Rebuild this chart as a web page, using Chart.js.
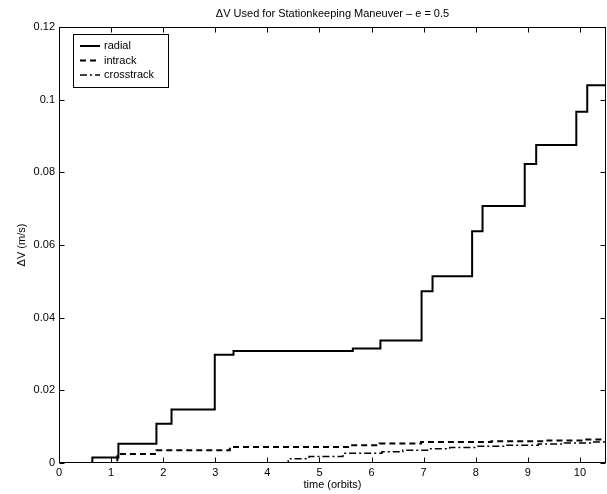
<!DOCTYPE html>
<html>
<head>
<meta charset="utf-8">
<script src="https://cdn.jsdelivr.net/npm/chart.js@4.4.0/dist/chart.umd.min.js"></script>
<style>
  html, body { margin: 0; padding: 0; background: #fff; }
</style>
</head>
<body>
<canvas id="chart" width="607" height="494"></canvas>
<script>
// step data: each entry is the time (orbits) at which the cumulative dV jumps
const radialTime = [0, 0.64, 1.14, 1.87, 2.16, 2.99, 3.35, 5.64, 6.17, 6.96, 7.17, 7.93, 8.13, 8.94, 9.16, 9.93, 10.14, 10.5];
const radialDv = [0, 0.0015, 0.0053, 0.0108, 0.0147, 0.0298, 0.0308, 0.0315, 0.0337, 0.0473, 0.0514, 0.0638, 0.0707, 0.0823, 0.0875, 0.0967, 0.1040, 0.1040];

const intrackTime = [0, 1.12, 1.87, 3.28, 5.55, 6.15, 6.95, 8.3, 9.3, 10.1, 10.5];
const intrackDv = [0, 0.0025, 0.0035, 0.0044, 0.0049, 0.0054, 0.0058, 0.0060, 0.0062, 0.0065, 0.0065];

const crossTime = [0, 4.4, 4.8, 5.45, 6.2, 6.6, 7.1, 7.5, 8.0, 8.6, 9.2, 9.7, 10.2, 10.5];
const crossDv = [0, 0.0012, 0.0018, 0.0027, 0.0031, 0.0035, 0.0039, 0.0043, 0.0046, 0.0049, 0.0052, 0.0055, 0.0058, 0.0058];

const xTicks = [0, 1, 2, 3, 4, 5, 6, 7, 8, 9, 10];
const yTicks = [0, 0.02, 0.04, 0.06, 0.08, 0.1, 0.12];

const FONT = '"Liberation Sans", Arial, Helvetica, sans-serif';

function toPoints(xs, ys) {
    return xs.map((x, i) => ({ x: x, y: ys[i] }));
}

// axes box with inward tick marks on all four sides
const boxPlugin = {
    id: 'box',
    afterDraw(chart) {
        const { ctx, chartArea: a, scales } = chart;
        const L = Math.round(a.left) + 0.5, R = Math.round(a.right) - 0.5;
        const T = Math.round(a.top) + 0.5, B = Math.round(a.bottom) - 0.5;
        const len = 5;
        ctx.save();
        ctx.strokeStyle = '#000';
        ctx.lineWidth = 1;
        ctx.strokeRect(L, T, R - L, B - T);
        ctx.beginPath();
        scales.x.ticks.forEach(t => {
            const px = Math.round(scales.x.getPixelForValue(t.value)) + 0.5;
            ctx.moveTo(px, B); ctx.lineTo(px, B - len);
            ctx.moveTo(px, T); ctx.lineTo(px, T + len);
        });
        scales.y.ticks.forEach(t => {
            const py = Math.round(scales.y.getPixelForValue(t.value)) + 0.5;
            ctx.moveTo(L, py); ctx.lineTo(L + len, py);
            ctx.moveTo(R, py); ctx.lineTo(R - len, py);
        });
        ctx.stroke();
        ctx.restore();
    }
};

// title centred over the axes
const titlePlugin = {
    id: 'axesTitle',
    afterDraw(chart) {
        const { ctx, chartArea: a } = chart;
        ctx.save();
        ctx.font = '11px ' + FONT;
        ctx.fillStyle = '#000';
        ctx.textAlign = 'center';
        ctx.textBaseline = 'alphabetic';
        ctx.fillText('ΔV Used for Stationkeeping Maneuver – e = 0.5', (a.left + a.right) / 2, 17);
        ctx.restore();
    }
};

// boxed legend in the upper left corner of the axes
const legendPlugin = {
    id: 'boxLegend',
    afterDraw(chart) {
        const { ctx } = chart;
        const x0 = 73.5, y0 = 34.5, w = 95, h = 53;
        ctx.save();
        ctx.fillStyle = '#fff';
        ctx.fillRect(x0, y0, w, h);
        ctx.strokeStyle = '#000';
        ctx.lineWidth = 1;
        ctx.strokeRect(x0, y0, w, h);
        ctx.font = '11px ' + FONT;
        ctx.textBaseline = 'middle';
        ctx.textAlign = 'left';
        chart.data.datasets.forEach((ds, i) => {
            const y = 46 + i * 14.5;
            ctx.beginPath();
            ctx.setLineDash(ds.borderDash || []);
            ctx.lineWidth = ds.borderWidth;
            ctx.moveTo(80, y);
            ctx.lineTo(100, y);
            ctx.stroke();
            ctx.setLineDash([]);
            ctx.fillStyle = '#000';
            ctx.fillText(ds.label, 104, y);
        });
        ctx.restore();
    }
};

const ctx = document.getElementById('chart').getContext('2d');

new Chart(ctx, {
    type: 'line',
    data: {
        datasets: [
            {
                label: 'radial',
                data: toPoints(radialTime, radialDv),
                borderColor: '#000',
                borderWidth: 2,
                stepped: true,
                pointRadius: 0,
                fill: false
            },
            {
                label: 'intrack',
                data: toPoints(intrackTime, intrackDv),
                borderColor: '#000',
                borderWidth: 2,
                borderDash: [6, 4],
                stepped: true,
                pointRadius: 0,
                fill: false
            },
            {
                label: 'crosstrack',
                data: toPoints(crossTime, crossDv),
                borderColor: '#000',
                borderWidth: 1.5,
                borderDash: [7, 3, 2, 3],
                stepped: true,
                pointRadius: 0,
                fill: false
            }
        ]
    },
    options: {
        responsive: false,
        animation: false,
        devicePixelRatio: 1,
        layout: {
            padding: { top: 27, right: 1, left: 0, bottom: 0 }
        },
        plugins: {
            legend: { display: false },
            tooltip: { enabled: false }
        },
        scales: {
            x: {
                type: 'linear',
                min: 0,
                max: 10.5,
                afterBuildTicks: s => { s.ticks = xTicks.map(v => ({ value: v })); },
                afterFit: s => { s.height = 31; },
                grid: { display: false, drawTicks: false },
                border: { display: false },
                ticks: {
                    color: '#000',
                    padding: 3,
                    maxRotation: 0,
                    font: { family: FONT, size: 11 },
                    callback: v => String(v)
                },
                title: {
                    display: true,
                    text: 'time (orbits)',
                    color: '#000',
                    font: { family: FONT, size: 11 },
                    padding: { top: 0, bottom: 2.4 }
                }
            },
            y: {
                type: 'linear',
                min: 0,
                max: 0.12,
                afterBuildTicks: s => { s.ticks = yTicks.map(v => ({ value: v })); },
                afterFit: s => { s.width = 59; },
                grid: { display: false, drawTicks: false },
                border: { display: false },
                ticks: {
                    color: '#000',
                    padding: 4,
                    font: { family: FONT, size: 11 },
                    callback: v => String(v)
                },
                title: {
                    display: true,
                    text: 'ΔV (m/s)',
                    color: '#000',
                    font: { family: FONT, size: 11 },
                    padding: { top: 15.4, bottom: 0 }
                }
            }
        }
    },
    plugins: [boxPlugin, titlePlugin, legendPlugin]
});
</script>
</body>
</html>
